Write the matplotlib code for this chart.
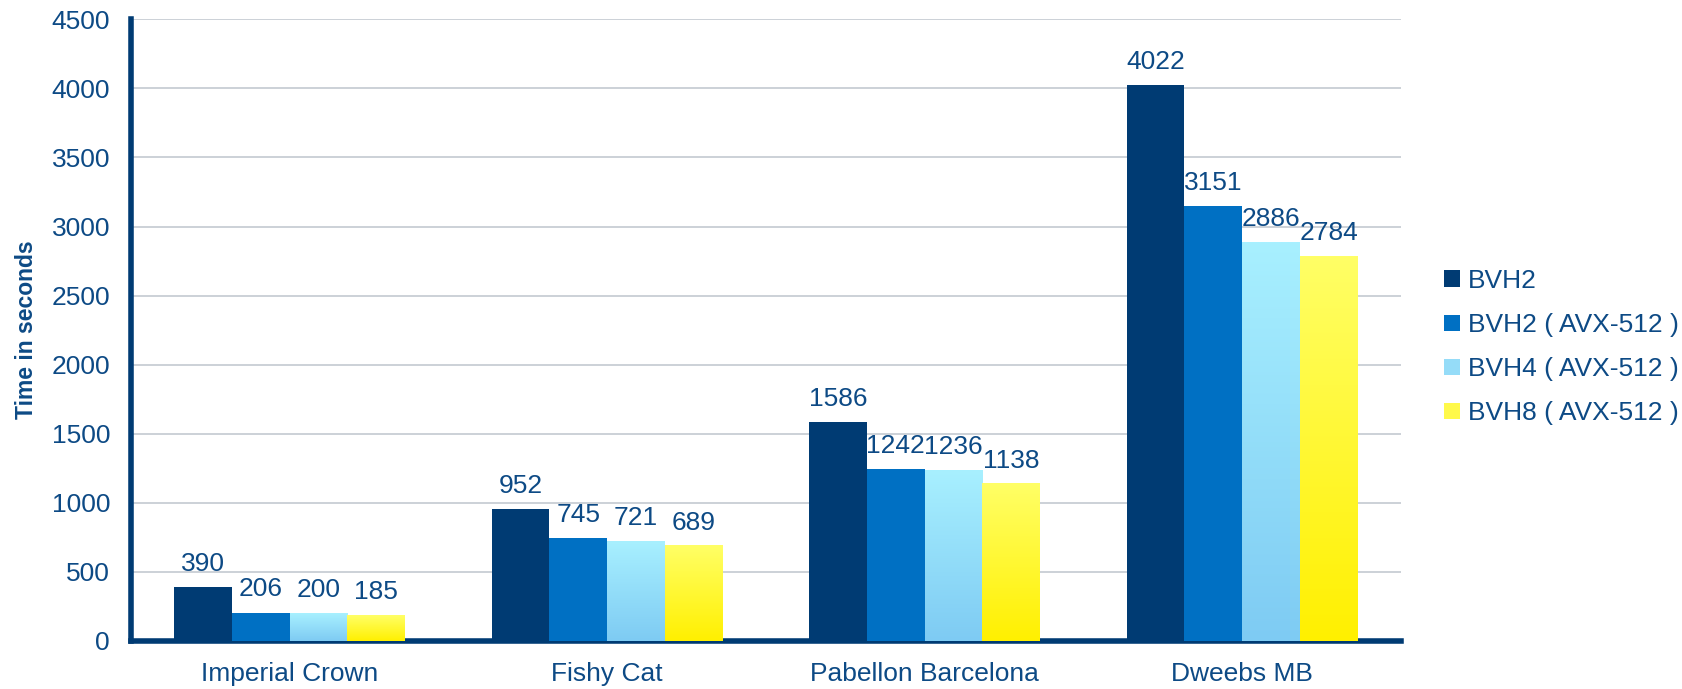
import numpy as np
import matplotlib.pyplot as plt
from matplotlib.patches import Patch
from matplotlib.colors import LinearSegmentedColormap

plt.rcParams['font.family'] = ['Liberation Sans', 'DejaVu Sans']

scenes = ['Imperial Crown', 'Fishy Cat', 'Pabellon Barcelona', 'Dweebs MB']
series = ['BVH2', 'BVH2 ( AVX-512 )', 'BVH4 ( AVX-512 )', 'BVH8 ( AVX-512 )']
bvh2 = [390, 952, 1586, 4022]
bvh2_avx = [206, 745, 1242, 3151]
bvh4_avx = [200, 721, 1236, 2886]
bvh8_avx = [185, 689, 1138, 2784]
values = [bvh2, bvh2_avx, bvh4_avx, bvh8_avx]

text_col = '#0d4a85'
navy = '#003b73'
# solid colours, or (top, bottom) gradients
fills = ['#003b73', '#0070c3', ('#a8f0ff', '#7ecbf3'), ('#ffff66', '#fff000')]
legend_cols = ['#003b73', '#0070c3', '#95dcf8', '#fff94a']

fig = plt.figure(figsize=(16.83, 6.89), dpi=100)
ax = fig.add_axes([0.0778, 0.0697, 0.7546, 0.9023])

x = np.arange(len(scenes))
w = 0.182
for i, (vals, fill) in enumerate(zip(values, fills)):
    pos = x + (i - 1.5) * w
    if isinstance(fill, tuple):
        bars = ax.bar(pos, vals, w, color='none', linewidth=0, zorder=3)
        cmap = LinearSegmentedColormap.from_list('g', [fill[1], fill[0]])
        grad = np.linspace(0, 1, 256).reshape(-1, 1)
        for b in bars:
            x0, y0 = b.get_x(), b.get_y()
            ax.imshow(grad, cmap=cmap, origin='lower', aspect='auto',
                      extent=[x0, x0 + b.get_width(), y0, y0 + b.get_height()],
                      zorder=3)
    else:
        bars = ax.bar(pos, vals, w, color=fill, linewidth=0, zorder=3)
    for p, v in zip(pos, vals):
        ax.annotate(str(v), (p, v), xytext=(0, 8), textcoords='offset points',
                    ha='center', va='bottom', fontsize=19, color=text_col)

ax.set_xlim(-0.5, 3.5)
ax.set_ylim(0, 4500)
ax.set_yticks(np.arange(0, 4501, 500))
ax.set_xticks(x)
ax.set_xticklabels(scenes)
ax.tick_params(axis='both', length=0, labelsize=19, labelcolor=text_col)
ax.tick_params(axis='y', pad=15)
ax.tick_params(axis='x', pad=15)
ax.grid(axis='y', color='#c3c9d1', linewidth=1.2, zorder=0)
ax.set_axisbelow(True)
for s in ['top', 'right']:
    ax.spines[s].set_visible(False)
for s in ['left', 'bottom']:
    ax.spines[s].set_color(navy)
    ax.spines[s].set_linewidth(4)
ax.set_ylabel('Time in seconds', fontsize=16.5, fontweight='bold',
              color=text_col, labelpad=10)

handles = [Patch(facecolor=c, edgecolor='none') for c in legend_cols]
leg = fig.legend(handles, series, loc='center left',
                 bbox_to_anchor=(0.858, 0.496), frameon=False,
                 borderpad=0, borderaxespad=0,
                 fontsize=19, handlelength=0.6, handleheight=0.6,
                 handletextpad=0.3, labelspacing=0.76)
for t in leg.get_texts():
    t.set_color(text_col)

fig.savefig('out.png', dpi=100)
